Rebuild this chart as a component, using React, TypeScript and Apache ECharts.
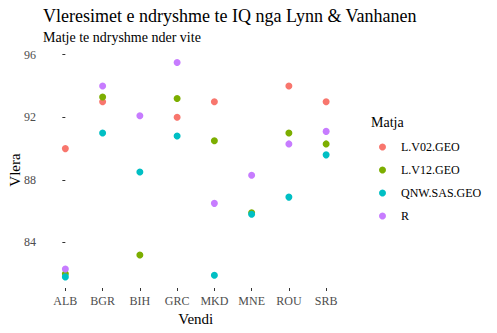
import React, { useEffect, useRef } from "react";
import * as echarts from "echarts";

const countries = ["ALB", "BGR", "BIH", "GRC", "MKD", "MNE", "ROU", "SRB"];
const seriesNames = ["L.V02.GEO", "L.V12.GEO", "QNW.SAS.GEO", "R"];
const colors = ["#F8766D", "#7CAE00", "#00BFC4", "#C77CFF"];
const lv02 = [90.0, 93.0, null, 92.0, 93.0, null, 94.0, 93.0];
const lv12 = [82.0, 93.3, 83.2, 93.2, 90.5, 85.9, 91.0, 90.3];
const qnw = [81.8, 91.0, 88.5, 90.8, 81.9, 85.8, 86.9, 89.6];
const rVals = [82.3, 94.0, 92.1, 95.5, 86.5, 88.3, 90.3, 91.1];
const yTicks = [84, 88, 92, 96];
const allValues = [lv02, lv12, qnw, rVals];

const FONT = "Liberation Serif";

export default function App() {
  const ref = useRef<HTMLDivElement>(null);
  useEffect(() => {
    document.body.style.margin = "0";
    const chart = echarts.init(ref.current!, null, { renderer: "svg" });
    const series = allValues.map((vals, i) => ({
      name: seriesNames[i],
      type: "scatter",
      symbolSize: 7,
      itemStyle: { color: colors[i], opacity: 1 },
      data: vals
        .map((v, j) => (v == null ? null : [j, v]))
        .filter((d) => d != null),
    }));
    chart.setOption({
      animation: false,
      backgroundColor: "#ffffff",
      textStyle: { fontFamily: FONT },
      graphic: [
        {
          type: "text",
          x: 43,
          y: 16,
          style: {
            text: "Vleresimet e ndryshme te IQ nga Lynn & Vanhanen",
            fontFamily: FONT,
            fontSize: 18,
            fill: "#000",
            textVerticalAlign: "middle",
          },
        },
        {
          type: "text",
          x: 43,
          y: 37.5,
          style: {
            text: "Matje te ndryshme nder vite",
            fontFamily: FONT,
            fontSize: 14,
            fill: "#000",
            textVerticalAlign: "middle",
          },
        },
        {
          type: "text",
          x: 371,
          y: 122,
          style: {
            text: "Matja",
            fontFamily: FONT,
            fontSize: 14,
            fill: "#000",
            textVerticalAlign: "middle",
          },
        },
        {
          type: "text",
          x: 14.5,
          y: 170,
          rotation: Math.PI / 2,
          style: {
            text: "Vlera",
            fontFamily: FONT,
            fontSize: 15,
            fill: "#000",
            textAlign: "center",
            textVerticalAlign: "middle",
          },
        },
      ],
      grid: { left: 43, right: 148.5, top: 51.6, bottom: 45, outerBoundsMode: "none", containLabel: false },
      xAxis: {
        type: "value",
        min: -0.6,
        max: 7.6,
        name: "Vendi",
        nameLocation: "middle",
        nameGap: 22,
        nameTextStyle: { fontFamily: FONT, fontSize: 15, color: "#000" },
        axisLine: { show: false },
        splitLine: { show: false },
        axisTick: {
          show: true,
          length: 3,
          customValues: countries.map((_, i) => i),
          lineStyle: { color: "#333333" },
        },
        axisLabel: {
          customValues: countries.map((_, i) => i),
          formatter: (v: number) => countries[Math.round(v)] ?? "",
          fontFamily: FONT,
          fontSize: 12,
          color: "#4D4D4D",
          margin: 7,
        },
      },
      yAxis: {
        type: "value",
        min: 81.09,
        max: 96.2,
        axisLine: { show: false },
        splitLine: { show: false },
        axisTick: {
          show: true,
          length: 3,
          customValues: yTicks,
          lineStyle: { color: "#333333" },
        },
        axisLabel: {
          customValues: yTicks,
          fontFamily: FONT,
          fontSize: 12,
          color: "#4D4D4D",
          margin: 7,
        },
      },
      legend: {
        orient: "vertical",
        left: 374,
        top: 135,
        icon: "circle",
        itemWidth: 27,
        itemHeight: 7,
        itemGap: 9,
        data: seriesNames,
        textStyle: { fontFamily: FONT, fontSize: 12, color: "#000", lineHeight: 14 },
      },
      series,
    });
    return () => chart.dispose();
  }, []);
  return <div ref={ref} style={{ width: 497, height: 333 }} />;
}
